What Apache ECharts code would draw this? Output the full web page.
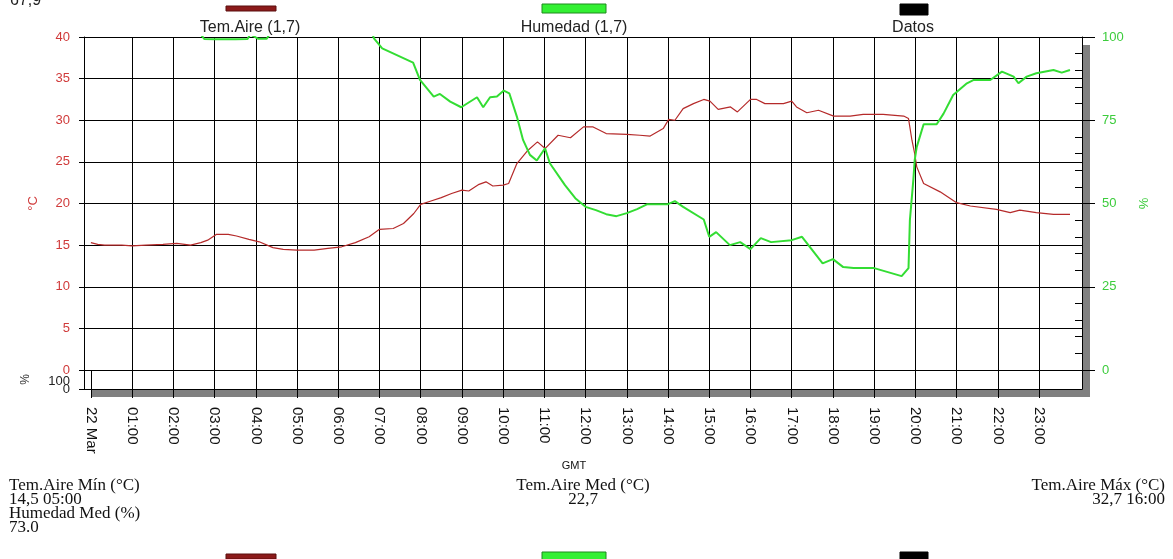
<!DOCTYPE html>
<html><head><meta charset="utf-8">
<script src="https://cdn.jsdelivr.net/npm/echarts@6/dist/echarts.min.js"></script>
<style>html,body{margin:0;padding:0;background:#fff}#c{width:1173px;height:559px}</style>
</head><body><div id="c"></div>
<script>
// ---- data ----
const seriesNames = ['Tem.Aire (1,7)', 'Humedad (1,7)', 'Datos'];
const tempTimes = ['00:00','00:10','00:20','00:30','00:45','01:00','01:20','01:45','02:05','02:25','02:40','02:50','03:03','03:20','03:32','03:50','04:05','04:25','04:40','05:00','05:25','05:45','06:05','06:25','06:45','07:00','07:20','07:35','07:50','08:00','08:15','08:30','08:45','09:00','09:10','09:25','09:35','09:45','10:00','10:08','10:20','10:35','10:50','11:01','11:20','11:38','11:57','12:11','12:30','13:00','13:19','13:34','13:53','14:01','14:10','14:22','14:37','14:52','15:01','15:13','15:31','15:41','16:00','16:09','16:21','16:48','17:00','17:07','17:22','17:39','18:01','18:25','18:44','19:13','19:43','19:50','19:55','19:59','20:02','20:12','20:36','21:00','21:20','21:58','22:18','22:32','22:56','23:21','23:45'];
const tempValues = [15.3,15.1,15.0,15.0,15.0,14.9,15.0,15.1,15.2,15.0,15.3,15.6,16.3,16.3,16.1,15.7,15.4,14.7,14.5,14.4,14.4,14.6,14.8,15.3,16.0,16.9,17.0,17.6,18.8,19.9,20.3,20.7,21.2,21.6,21.5,22.3,22.6,22.1,22.2,22.4,24.8,26.3,27.4,26.6,28.2,27.9,29.2,29.2,28.4,28.3,28.2,28.1,29.0,30.1,30.0,31.4,32.0,32.5,32.3,31.3,31.6,31.0,32.5,32.5,32.0,32.0,32.3,31.6,30.9,31.2,30.5,30.5,30.7,30.7,30.5,30.2,27.6,26.0,24.4,22.4,21.4,20.1,19.7,19.3,18.9,19.2,18.9,18.7,18.7];
const humTimes = ['00:00','01:00','02:00','02:40','02:45','03:00','03:30','03:48','03:52','04:03','04:16','04:20','06:50','06:52','07:04','07:49','07:59','08:19','08:28','08:43','08:59','09:22','09:31','09:41','09:51','10:01','10:09','10:20','10:29','10:39','10:49','11:01','11:08','11:30','11:45','12:00','12:15','12:30','12:45','13:00','13:15','13:30','14:00','14:10','14:22','14:52','15:00','15:10','15:30','15:45','16:00','16:15','16:30','17:00','17:15','17:30','17:45','18:00','18:15','18:30','19:00','19:30','19:40','19:50','19:52','19:57','19:59','20:02','20:12','20:31','20:41','20:55','21:15','21:25','21:49','22:06','22:23','22:30','22:42','22:56','23:21','23:33','23:45'];
const humValues = [100.8,100.8,100.8,100.8,99.4,99.3,99.3,99.4,100.8,99.5,99.5,100.8,100.8,99.6,96.6,92.3,87.1,82.1,82.9,80.6,78.9,81.9,78.9,81.9,82.1,83.9,83.1,76.1,69.1,64.6,62.9,66.6,62.1,55.5,51.6,49.0,48.0,46.8,46.2,47.1,48.3,49.8,49.8,50.7,49.0,45.2,40.0,41.4,37.5,38.4,36.3,39.6,38.4,39.0,40.0,36.0,32.0,33.3,30.9,30.6,30.6,28.8,28.2,30.6,45.0,57.0,63.0,67.0,73.8,73.8,77.0,82.6,86.1,87.1,87.1,89.6,88.1,86.1,88.1,89.1,90.1,89.3,90.1];
const hourLabels = [0,1,2,3,4,5,6,7,8,9,10,11,12,13,14,15,16,17,18,19,20,21,22,23];
const hourGrid = [1,2,3,4,5,6,7,8,9,10,11,12,13,14,15,16,17,18,19,20,21,22,23];
const dayLabel = '22 Mar';
const tempTicks = {min: 0, max: 40, step: 5};
const humTicks = {min: 0, max: 100, step: 25, minor: 5};
const datosTop = [100];
const datosBottom = [0];
const statsLeft = ['Tem.Aire Mín (°C)', '14,5 05:00', 'Humedad Med (%)', '73.0'];
const statsMid = ['Tem.Aire Med (°C)', '22,7'];
const statsRight = ['Tem.Aire Máx (°C)', '32,7 16:00'];
const topCutText = '67,9';

// ---- helpers ----
const toH = s => { const p = s.split(':').map(Number); return p[0] + p[1] / 60; };
const tempData = tempTimes.map((t, i) => [toH(t), tempValues[i]]);
const humData = humTimes.map((t, i) => [toH(t), humValues[i]]);
const XMIN = -10 / 60, XMAX = 24 + 2.5 / 60;
const SANS = '"Liberation Sans", Arial, sans-serif';
const SERIF = '"Liberation Serif", "Times New Roman", serif';
const RED = '#b52a2a', GREEN = '#33dd33';
const fmtHour = v => v === 0 ? dayLabel : String(Math.round(v)).padStart(2, '0') + ':00';

const chart = echarts.init(document.getElementById('c'), null, {renderer: 'canvas'});

const G = {left: 84, top: 37, width: 998, height: 333};
const G1 = {left: 84, top: 370, width: 998, height: 19};

function legendItems(y, ty) {
  const items = [];
  const defs = [
    {x: 226, w: 50, h: 5, dy: 2, fill: '#8b1a1a', stroke: '#5a0f0f', tx: 250},
    {x: 542, w: 64, h: 9, dy: 0, fill: '#33f033', stroke: '#1f8a1f', tx: 574},
    {x: 900, w: 28, h: 11, dy: 0, fill: '#000000', stroke: '#000000', tx: 913}
  ];
  defs.forEach((d, i) => {
    items.push({type: 'rect', shape: {x: d.x, y: y + d.dy, width: d.w, height: d.h},
      style: {fill: d.fill, stroke: d.stroke, lineWidth: 1}});
    if (ty !== null) items.push({type: 'text', style: {text: seriesNames[i], x: d.tx, y: ty,
      font: '16px ' + SANS, fill: '#222', align: 'center', verticalAlign: 'middle'}});
  });
  return items;
}

const graphics = [
  // frame drop shadow
  {type: 'rect', z: -10, shape: {x: G.left + G.width, y: G.top + 8, width: 8, height: G.height + G1.height}, style: {fill: '#808080'}},
  {type: 'rect', z: -10, shape: {x: G.left + 8, y: G1.top + G1.height, width: G.width, height: 8}, style: {fill: '#808080'}},
  {type: 'text', style: {text: topCutText, x: 10, y: 1, font: '16px ' + SANS, fill: '#222', align: 'left', verticalAlign: 'middle'}},
  {type: 'text', style: {text: 'GMT', x: 574, y: 466, font: '11px ' + SANS, fill: '#111', align: 'center', verticalAlign: 'middle'}}
].concat(legendItems(4, 28)).concat(legendItems(552, null));

const LH = 14, TY = 486;
statsLeft.forEach((t, i) => graphics.push({type: 'text', style: {text: t, x: 9, y: TY + i * LH,
  font: '17px ' + SERIF, fill: '#111', align: 'left', verticalAlign: 'middle'}}));
statsMid.forEach((t, i) => graphics.push({type: 'text', style: {text: t, x: 583, y: TY + i * LH,
  font: '17px ' + SERIF, fill: '#111', align: 'center', verticalAlign: 'middle'}}));
statsRight.forEach((t, i) => graphics.push({type: 'text', style: {text: t, x: 1165, y: TY + i * LH,
  font: '17px ' + SERIF, fill: '#111', align: 'right', verticalAlign: 'middle'}}));

const black = {color: '#000', width: 1};

chart.setOption({
  animation: false,
  backgroundColor: '#fff',
  grid: [
    Object.assign({show: false}, G),
    Object.assign({show: false}, G1)
  ],
  xAxis: [
    {gridIndex: 0, type: 'value', min: XMIN, max: XMAX,
      axisLine: {show: false}, axisTick: {show: false, customValues: hourGrid},
      axisLabel: {show: false}, splitLine: {show: true, lineStyle: black}},
    {gridIndex: 1, type: 'value', min: XMIN, max: XMAX, position: 'bottom',
      axisLine: {show: true, onZero: false, lineStyle: black},
      axisTick: {show: true, length: 9, customValues: hourLabels, lineStyle: black},
      axisLabel: {customValues: hourLabels, rotate: -90, margin: 18, fontSize: 15, color: '#111',
        fontFamily: SANS, formatter: fmtHour},
      splitLine: {show: true, lineStyle: black}}
  ],
  yAxis: [
    {gridIndex: 0, type: 'value', min: tempTicks.min, max: tempTicks.max, interval: tempTicks.step, position: 'left',
      axisLine: {show: true, onZero: false, lineStyle: black},
      axisTick: {show: true, length: 5, lineStyle: black},
      axisLabel: {color: '#d03a3a', fontSize: 13, fontFamily: SANS, margin: 14},
      splitLine: {show: true, lineStyle: black},
      name: '°C', nameLocation: 'middle', nameGap: 44, nameRotate: 90,
      nameTextStyle: {color: '#d03a3a', fontSize: 13, fontFamily: SANS}},
    {gridIndex: 0, type: 'value', min: humTicks.min, max: humTicks.max, interval: humTicks.step, position: 'right',
      axisLine: {show: true, onZero: false, lineStyle: black},
      axisTick: {show: true, length: 13, lineStyle: black},
      axisLabel: {color: '#3ccc3c', fontSize: 13, fontFamily: SANS, margin: 20},
      splitLine: {show: false},
      name: '%', nameLocation: 'middle', nameGap: 56, nameRotate: 90,
      nameTextStyle: {color: '#3ccc3c', fontSize: 13, fontFamily: SANS}},
    {gridIndex: 0, type: 'value', min: humTicks.min, max: humTicks.max, interval: humTicks.minor, position: 'right',
      axisLine: {show: false, onZero: false}, axisTick: {show: true, inside: true, length: 7, lineStyle: black},
      axisLabel: {show: false}, splitLine: {show: false}},
    {gridIndex: 1, type: 'value', min: 0, max: 237.5, position: 'left',
      axisLine: {show: true, onZero: false, lineStyle: black},
      axisTick: {show: true, length: 5, customValues: [0], lineStyle: black},
      axisLabel: {customValues: datosTop, color: '#222', fontSize: 13, fontFamily: SANS, margin: 14},
      splitLine: {show: false},
      name: '%', nameLocation: 'middle', nameGap: 52, nameRotate: 90,
      nameTextStyle: {color: '#333', fontSize: 12, fontFamily: SANS}},
    {gridIndex: 1, type: 'value', min: 0, max: 100, position: 'right',
      axisLine: {show: true, onZero: false, lineStyle: black}, axisTick: {show: false},
      axisLabel: {show: false}, splitLine: {show: false}},
    {gridIndex: 1, type: 'value', min: 0, max: 237.5, position: 'left',
      axisLine: {show: false, onZero: false}, axisTick: {show: false},
      axisLabel: {customValues: datosBottom, color: '#222', fontSize: 13, fontFamily: SANS, margin: 14},
      splitLine: {show: false}}
  ],
  series: [
    {name: seriesNames[0], type: 'line', xAxisIndex: 0, yAxisIndex: 0, data: tempData,
      showSymbol: false, symbol: 'none', clip: true, lineStyle: {color: RED, width: 1.2}, z: 3},
    {name: seriesNames[1], type: 'line', xAxisIndex: 0, yAxisIndex: 1, data: humData,
      showSymbol: false, symbol: 'none', clip: true, lineStyle: {color: GREEN, width: 2}, z: 4}
  ],
  graphic: {elements: graphics}
});
</script></body></html>
